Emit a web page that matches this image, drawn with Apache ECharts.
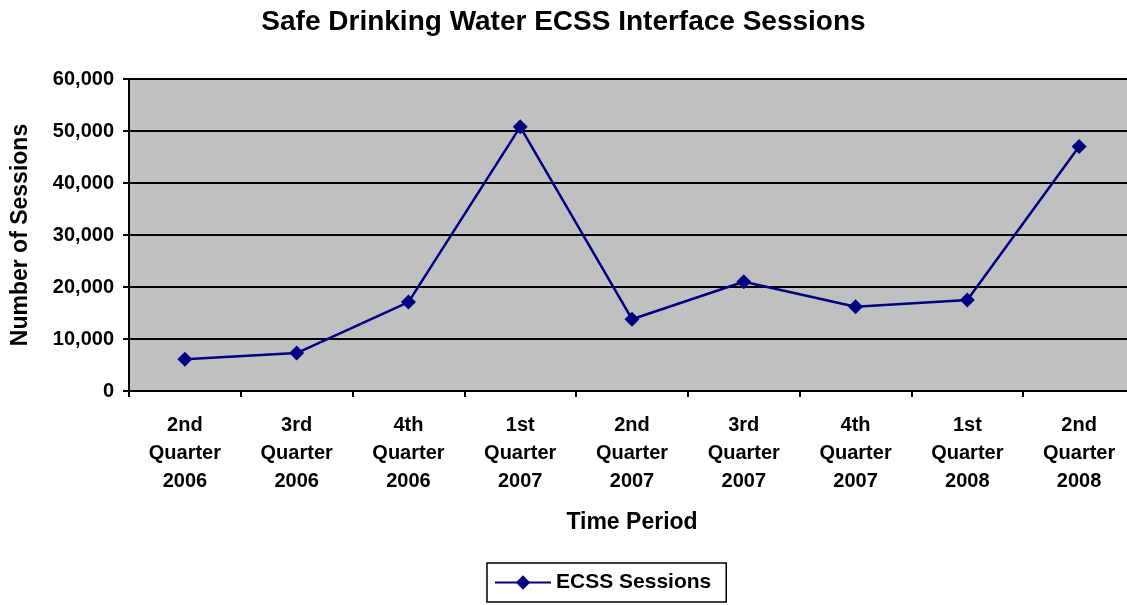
<!DOCTYPE html>
<html>
<head>
<meta charset="utf-8">
<script src="https://cdn.jsdelivr.net/npm/echarts@6/dist/echarts.min.js"></script>
<style>
  html, body { margin: 0; padding: 0; background: #fff; }
  #chart { width: 1127px; height: 605px; }
</style>
</head>
<body>
<div id="chart"></div>
<script>
let categories = ['2nd\nQuarter\n2006', '3rd\nQuarter\n2006', '4th\nQuarter\n2006', '1st\nQuarter\n2007', '2nd\nQuarter\n2007', '3rd\nQuarter\n2007', '4th\nQuarter\n2007', '1st\nQuarter\n2008', '2nd\nQuarter\n2008']
let sessions = [6100, 7300, 17100, 50800, 13800, 21000, 16200, 17500, 47000]
let seriesName = 'ECSS Sessions'

let fontFamily = '"Liberation Sans", Arial, sans-serif'

let myChart = echarts.init(document.getElementById('chart'))

let option = {
    animation: false,
    title: {
        text: 'Safe Drinking Water ECSS Interface Sessions',
        left: 'center',
        top: 3,
        textStyle: { fontFamily: fontFamily, fontSize: 28, fontWeight: 'bold', color: '#000' }
    },
    legend: {
        data: [seriesName],
        left: 487,
        top: 563,
        padding: [9, 15, 9, 7],
        itemWidth: 56,
        itemHeight: 18,
        itemGap: 0,
        borderColor: '#000',
        borderWidth: 1.5,
        textStyle: { fontFamily: fontFamily, fontSize: 21, fontWeight: 'bold', color: '#000' }
    },
    grid: {
        left: 129,
        top: 79,
        width: 1006,
        bottom: 214,
        outerBoundsMode: 'none',
        show: true,
        backgroundColor: '#c0c0c0',
        borderColor: '#808080',
        borderWidth: 1
    },
    xAxis: {
        type: 'category',
        data: categories,
        boundaryGap: true,
        name: 'Time Period',
        nameLocation: 'middle',
        nameGap: 120,
        nameTextStyle: { fontFamily: fontFamily, fontSize: 23, fontWeight: 'bold', color: '#000' },
        axisLine: { lineStyle: { color: '#000', width: 2 } },
        axisTick: { show: true, length: 6, inside: false, lineStyle: { color: '#000', width: 2 } },
        axisLabel: {
            interval: 0,
            margin: 20,
            lineHeight: 28,
            fontFamily: fontFamily,
            fontSize: 20,
            fontWeight: 'bold',
            color: '#000'
        },
        splitLine: { show: false }
    },
    yAxis: {
        type: 'value',
        min: 0,
        max: 60000,
        interval: 10000,
        name: 'Number of Sessions',
        nameLocation: 'middle',
        nameGap: 97,
        nameTextStyle: { fontFamily: fontFamily, fontSize: 23, fontWeight: 'bold', color: '#000' },
        axisLine: { show: true, lineStyle: { color: '#000', width: 2 } },
        axisTick: { show: true, length: 6, lineStyle: { color: '#000', width: 2 } },
        axisLabel: {
            margin: 15,
            fontFamily: fontFamily,
            fontSize: 20,
            fontWeight: 'bold',
            color: '#000',
            formatter: function (v) {
                return v.toLocaleString('en-US')
            }
        },
        splitLine: { show: true, lineStyle: { color: '#000', width: 2 } }
    },
    series: [{
        name: seriesName,
        type: 'line',
        data: sessions,
        symbol: 'diamond',
        symbolSize: 15,
        color: '#000080',
        lineStyle: { color: '#000080', width: 2.5 },
        itemStyle: { color: '#000080' }
    }]
}

myChart.setOption(option, true)
</script>
</body>
</html>
